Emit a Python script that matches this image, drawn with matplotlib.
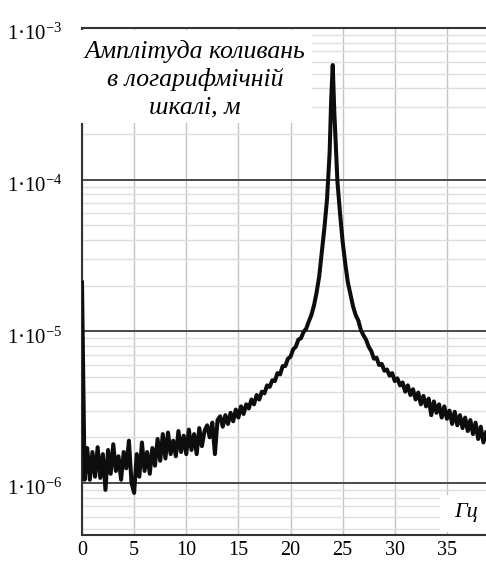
import numpy as np
import matplotlib
matplotlib.use("Agg")
import matplotlib.pyplot as plt
from matplotlib.patches import Rectangle
from matplotlib.ticker import FixedLocator, NullFormatter
from matplotlib.transforms import ScaledTranslation

plt.rcParams["font.family"] = ["Liberation Serif", "DejaVu Serif"]
plt.rcParams["mathtext.fontset"] = "custom"
plt.rcParams["mathtext.rm"] = "Liberation Serif"
plt.rcParams["mathtext.it"] = "Liberation Serif:italic"

# spectrum sampling (Hz): 0.25 Hz grid with extra points around the resonance
freq = np.concatenate([np.arange(0, 23.8, 0.25), [23.9, 24.05, 24.2],
                       np.arange(24.5, 38.8, 0.25)])

# amplitude, in units of 1e-6 m
amp_um = [
    21.0, 1.05, 1.7, 1.05, 1.6, 1.1, 1.72, 1.08,        # 0 .. 1.75
    1.55, 0.9, 1.65, 1.15, 1.8, 1.2, 1.5, 1.05,         # 2 .. 3.75
    1.6, 1.25, 1.9, 1.0, 0.86, 1.55, 1.1, 1.85,         # 4 .. 5.75
    1.2, 1.6, 1.15, 1.7, 1.3, 1.95, 1.4, 2.1,           # 6 .. 7.75
    1.45, 2.15, 1.55, 1.9, 1.5, 2.2, 1.6, 2.05,         # 8 .. 9.75
    1.55, 2.25, 1.65, 2.1, 1.55, 2.3, 1.75, 2.2,        # 10 .. 11.75
    2.4, 2.0, 2.5, 1.55, 2.6, 2.75, 2.35, 2.8,          # 12 .. 13.75
    2.45, 2.9, 2.55, 3.05, 2.7, 3.2, 2.85, 3.3,         # 14 .. 15.75
    3.1, 3.55, 3.3, 3.8, 3.55, 4.0, 3.9, 4.4,           # 16 .. 17.75
    4.3, 4.75, 4.7, 5.3, 5.2, 5.9, 5.9, 6.6,            # 18 .. 19.75
    6.8, 7.6, 7.9, 8.8, 9.0, 9.9, 10.4, 11.6,           # 20 .. 21.75
    12.8, 14.8, 18.0, 23.0, 33.0, 48.0, 74.0, 150.0,    # 22 .. 23.75
    337.0, 570.0, 280.0,                                # 23.9, 24.05, 24.2
    97.0, 60.0, 39.0, 28.0, 21.0, 17.5, 14.6, 12.8,     # 24.5 .. 26.25
    11.8, 10.2, 9.4, 8.8, 7.9, 7.4, 6.6, 6.7,           # 26.5 .. 28.25
    6.0, 6.1, 5.5, 5.6, 5.1, 5.3, 4.7, 4.9,             # 28.5 .. 30.25
    4.4, 4.6, 4.0, 4.4, 3.8, 4.15, 3.55, 3.95,          # 30.5 .. 32.25
    3.3, 3.75, 3.2, 3.6, 2.8, 3.45, 2.9, 3.3,           # 32.5 .. 34.25
    2.7, 3.2, 2.65, 3.0, 2.45, 2.95, 2.4, 2.8,          # 34.5 .. 36.25
    2.3, 2.7, 2.2, 2.6, 2.1, 2.5, 1.95, 2.35,           # 36.5 .. 38.25
    1.85, 2.15,                                         # 38.5, 38.75
]
amp = np.array(amp_um) * 1e-6

y_ticks = [1e-6, 1e-5, 1e-4, 1e-3]
y_labels = [r"$\mathregular{1·10^{-6}}$", r"$\mathregular{1·10^{-5}}$",
            r"$\mathregular{1·10^{-4}}$", r"$\mathregular{1·10^{-3}}$"]
x_ticks = [0, 5, 10, 15, 20, 25, 30, 35]
title_text = "Амплітуда коливань\nв логарифмічній\nшкалі, м"
x_unit = "Гц"

W, H = 486, 561
fig = plt.figure(figsize=(W / 100, H / 100), dpi=100)
ax = fig.add_axes([82 / W, 1 - 535 / H, 1 - 82 / W, (535 - 28) / H])

ax.plot(freq, amp, color="#0d0d0d", lw=2.9, solid_joinstyle="round", zorder=3)

ax.set_yscale("log")
ax.set_xlim(0, 38.75)
ax.set_ylim(10 ** -6.343, 1e-3)

ax.yaxis.set_major_locator(FixedLocator(y_ticks))
ax.set_yticklabels(y_labels)
minors = [m * 10.0 ** e for e in range(-7, -3) for m in range(2, 10)]
ax.yaxis.set_minor_locator(FixedLocator(minors))
ax.yaxis.set_minor_formatter(NullFormatter())
ax.set_xticks(x_ticks)
ax.set_xticklabels([str(t) for t in x_ticks])

ax.tick_params(axis="both", which="both", length=0)
ax.tick_params(axis="y", pad=14, labelsize=15)
ax.tick_params(axis="x", pad=4, labelsize=14.5)

# the value labels sit a little below their grid lines
shift = ScaledTranslation(0, -4 / 100, fig.dpi_scale_trans)
for lab in ax.get_yticklabels():
    lab.set_transform(lab.get_transform() + shift)

ax.grid(True, axis="y", which="major", color="#4a4a4a", lw=1.4)
ax.grid(True, axis="y", which="minor", color="#dedede", lw=1.0)
ax.grid(True, axis="x", which="major", color="#c4c4c4", lw=1.0)
ax.set_axisbelow(True)

for side in ["left", "bottom", "top"]:
    ax.spines[side].set_color("#333333")
    ax.spines[side].set_linewidth(1.5)
ax.spines["right"].set_visible(False)

# white backgrounds behind the two labels (they hide grid and spine)
tr = fig.transFigure
ax.add_patch(Rectangle((80 / W, 1 - 123 / H), (312 - 80) / W, (123 - 30) / H,
                       transform=tr, facecolor="white", edgecolor="none",
                       clip_on=False, zorder=2.7))
ax.add_patch(Rectangle((440 / W, 1 - 532 / H), (W - 440) / W, (532 - 495) / H,
                       transform=tr, facecolor="white", edgecolor="none",
                       clip_on=False, zorder=2.7))

fig.text(195 / W, 1 - 79 / H, title_text, ha="center", va="center",
         fontsize=18.5, style="italic", linespacing=1.3, zorder=4)
fig.text(466 / W, 1 - 513 / H, x_unit, ha="center", va="center",
         fontsize=16, style="italic", zorder=4)

fig.savefig("out.png", dpi=100)
